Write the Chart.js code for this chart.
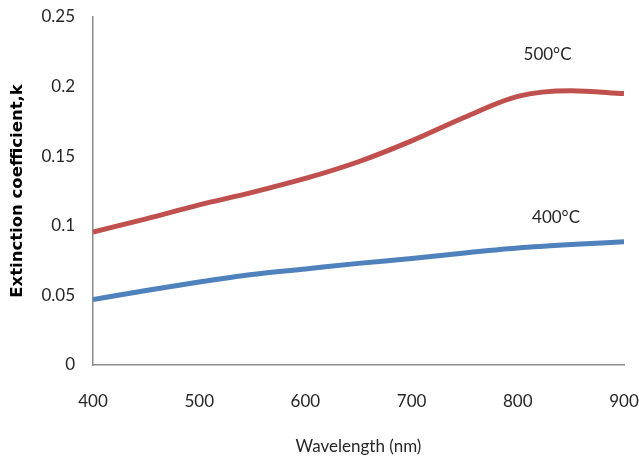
<!DOCTYPE html>
<html>
<head>
<meta charset="utf-8">
<script src="https://cdn.jsdelivr.net/npm/chart.js@4/dist/chart.umd.min.js"></script>
<style>
  html, body { margin: 0; padding: 0; background: #fff; }
  #wrap { width: 639px; height: 459px; }
</style>
</head>
<body>
<div id="wrap"><canvas id="chK"></canvas></div>
<script>
// data
var wavelength = [400, 450, 500, 550, 600, 650, 700, 750, 800, 850, 900];
var k500 = [0.0955, 0.105, 0.115, 0.124, 0.134, 0.146, 0.161, 0.178, 0.193, 0.197, 0.195];
var k400 = [0.047, 0.0535, 0.0596, 0.065, 0.069, 0.073, 0.0765, 0.0805, 0.084, 0.0865, 0.0885];
var yTicks = [0, 0.05, 0.1, 0.15, 0.2, 0.25];
var xTicks = [400, 500, 600, 700, 800, 900];

// curve labels: text, wavelength, k
var curveLabels = [
  ['500°C', 828, 0.2234],
  ['400°C', 836, 0.1056]
];

var colors = ['#C0504D', '#4F81BD'];
var txt = '#262626';

function pts(ys) {
  return wavelength.map(function (x, i) { return {x: x, y: ys[i]}; });
}

var labelPlugin = {
  id: 'curveLabels',
  afterDatasetsDraw: function (chart) {
    var ctx = chart.ctx, xs = chart.scales.x, ys = chart.scales.y;
    ctx.save();
    ctx.font = '17px Lato';
    ctx.fillStyle = txt;
    ctx.textAlign = 'center';
    ctx.textBaseline = 'middle';
    curveLabels.forEach(function (l) {
      ctx.fillText(l[0], xs.getPixelForValue(l[1]), ys.getPixelForValue(l[2]));
    });
    ctx.restore();
  }
};

new Chart(document.getElementById('chK'), {
  type: 'line',
  data: {
    datasets: [
      { label: '500°C', data: pts(k500), borderColor: colors[0], borderWidth: 5,
        pointRadius: 0, cubicInterpolationMode: 'monotone', fill: false },
      { label: '400°C', data: pts(k400), borderColor: colors[1], borderWidth: 5,
        pointRadius: 0, cubicInterpolationMode: 'monotone', fill: false }
    ]
  },
  options: {
    responsive: true,
    maintainAspectRatio: false,
    animation: false,
    layout: { padding: { left: 0, top: 17, right: 15, bottom: 0 } },
    plugins: { legend: { display: false }, tooltip: { enabled: false } },
    scales: {
      x: {
        type: 'linear', min: 400, max: 900,
        afterBuildTicks: function (s) { s.ticks = xTicks.map(function (v) { return {value: v}; }); },
        afterFit: function (s) { s.height = 94; },
        // tick marks are hidden; tickLength only spaces the labels from the axis
        grid: { display: false, drawTicks: true, tickLength: 26 },
        border: { display: true, color: '#8c8c8c', width: 1.5 },
        ticks: { color: txt, font: { family: 'Lato', size: 17 }, padding: 0, maxRotation: 0 },
        title: { display: true, text: 'Wavelength (nm)', color: txt, padding: 0,
                 font: { family: 'Lato', size: 17, lineHeight: '24px' } }
      },
      y: {
        min: 0, max: 0.25,
        afterBuildTicks: function (s) { s.ticks = yTicks.map(function (v) { return {value: v}; }); },
        afterFit: function (s) { s.width = 93; },
        grid: { display: false, drawTicks: true, tickLength: 18 },
        border: { display: true, color: '#8c8c8c', width: 1.5 },
        ticks: { color: txt, font: { family: 'Lato', size: 17 }, padding: 0,
                 callback: function (v) { return String(v); } },
        title: { display: true, text: 'Extinction coefficient,k', color: '#000', padding: 0,
                 font: { family: 'DejaVu Sans', size: 16.5, weight: 'bold', lineHeight: '36px' } }
      }
    }
  },
  plugins: [labelPlugin]
});
</script>
</body>
</html>
